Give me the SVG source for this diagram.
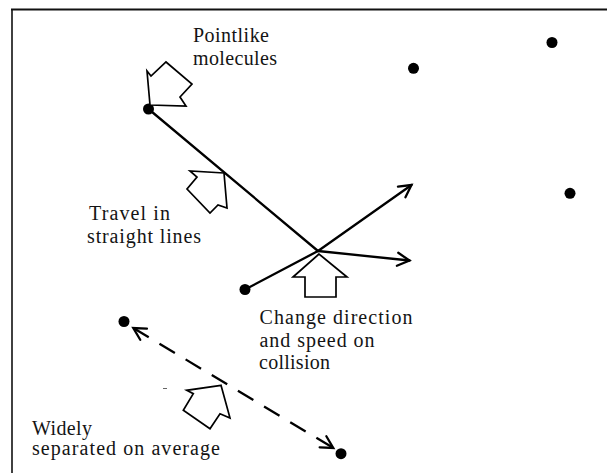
<svg xmlns="http://www.w3.org/2000/svg" width="607" height="473" viewBox="0 0 607 473">
  <style>
    .lbl { font-family: "Liberation Serif", "DejaVu Serif", serif; font-size: 20px; fill: #141414; }
    .mol { fill: #000; }
    .path { fill: none; stroke: #000; stroke-width: 2.3; stroke-linecap: round; }
    .dash { fill: none; stroke: #000; stroke-width: 2.3; stroke-dasharray: 18 12.5; }
    .blk { fill: #fff; stroke: #000; stroke-width: 1.7; stroke-linejoin: miter; }
    .frame { stroke: #111; fill: none; }
  </style>
  <defs>
    <marker id="vhead" markerUnits="userSpaceOnUse" markerWidth="30" markerHeight="30" viewBox="-15 -15 30 30" refX="0" refY="0" orient="auto-start-reverse" overflow="visible">
      <path d="M-12,-6.5 L0,0 L-12,6.5" fill="none" stroke="#000" stroke-width="2.3" stroke-linecap="round" stroke-linejoin="miter"/>
    </marker>
  </defs>

  <rect width="607" height="473" fill="#fff"/>

  <g id="frame">
    <line class="frame" x1="11" y1="9.5" x2="607" y2="9.5" stroke-width="2"/>
    <line class="frame" x1="12" y1="9" x2="12" y2="473" stroke-width="1.6" stroke="#444"/>
  </g>

  <g id="connectors">
    <line class="path" x1="148.5" y1="109" x2="318" y2="251"/>
    <line class="path" x1="245" y1="289.5" x2="318" y2="251"/>
    <line class="path" x1="318" y1="251" x2="411.5" y2="185" marker-end="url(#vhead)"/>
    <line class="path" x1="318" y1="251" x2="409.5" y2="260.5" marker-end="url(#vhead)"/>
    <line class="dash" x1="133.3" y1="328" x2="333.3" y2="448" marker-start="url(#vhead)" marker-end="url(#vhead)"/>
  </g>

  <g id="molecule-1"><circle class="mol" cx="148.5" cy="109" r="5.5"/></g>
  <g id="molecule-2"><circle class="mol" cx="413.5" cy="68.3" r="5.5"/></g>
  <g id="molecule-3"><circle class="mol" cx="552" cy="42.5" r="5.5"/></g>
  <g id="molecule-4"><circle class="mol" cx="570" cy="193.3" r="5.5"/></g>
  <g id="molecule-5"><circle class="mol" cx="245" cy="289.5" r="5.5"/></g>
  <g id="molecule-6"><circle class="mol" cx="124" cy="321.5" r="5.5"/></g>
  <g id="molecule-7"><circle class="mol" cx="341" cy="453.7" r="5.5"/></g>

  <g id="label-pointlike">
    <polygon class="blk" points="150,105 147,71 151,76 166,62 192,84 180,97 186,106"/>
    <text class="lbl" x="193" y="41.5" textLength="76" lengthAdjust="spacing">Pointlike</text>
    <text class="lbl" x="193" y="65" textLength="84" lengthAdjust="spacing">molecules</text>
  </g>

  <g id="label-travel">
    <polygon class="blk" points="224,173 190,171 197,177 187,189 210,213 218,205 227,208"/>
    <text class="lbl" x="89" y="220" textLength="81" lengthAdjust="spacing">Travel in</text>
    <text class="lbl" x="87" y="243" textLength="114" lengthAdjust="spacing">straight lines</text>
  </g>

  <g id="label-change">
    <polygon class="blk" points="319,254 293,277 305,277 305,297 336,297 336,277 347,277"/>
    <text class="lbl" x="259.5" y="324" textLength="153" lengthAdjust="spacing">Change direction</text>
    <text class="lbl" x="259.5" y="347" textLength="115" lengthAdjust="spacing">and speed on</text>
    <text class="lbl" x="259" y="369" textLength="71" lengthAdjust="spacing">collision</text>
  </g>

  <g id="label-widely">
    <polygon class="blk" points="221,385.3 186.7,390.3 193.3,393.7 183.3,410.3 210,428.7 220,413.7 230,418"/>
    <line x1="163" y1="388.5" x2="167" y2="388.5" stroke="#666" stroke-width="1"/>
    <text class="lbl" x="32" y="434.5" textLength="60" lengthAdjust="spacing">Widely</text>
    <text class="lbl" x="32" y="455" textLength="188" lengthAdjust="spacing">separated on average</text>
  </g>
</svg>
